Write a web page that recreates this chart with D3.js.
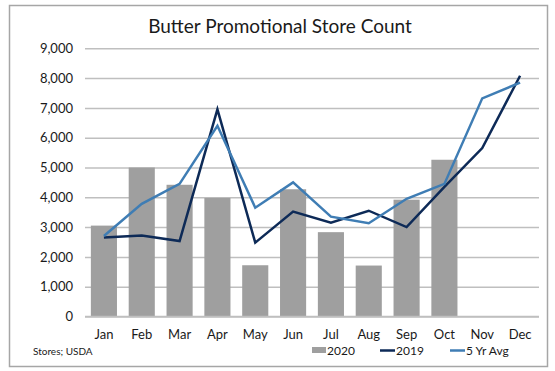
<!DOCTYPE html>
<html><head><meta charset="utf-8">
<script src="https://cdn.jsdelivr.net/npm/d3@7"></script>
<style>body{margin:0;background:#fff}svg{display:block}text{font-family:Lato,"Open Sans",sans-serif;fill:#1a1a1a}</style>
</head><body><svg id="c" width="555" height="371"></svg>
<script>
const months = ["Jan","Feb","Mar","Apr","May","Jun","Jul","Aug","Sep","Oct","Nov","Dec"];
const s2020 = [3050,5000,4420,3980,1720,4270,2830,1710,3920,5260,null,null];
const s2019 = [2650,2720,2530,6950,2480,3520,3150,3550,3000,4350,5650,8080];
const avg5 = [2700,3780,4450,6400,3650,4500,3350,3130,3950,4450,7320,7850];
const yTicks = [0,1000,2000,3000,4000,5000,6000,7000,8000,9000];
const title = "Butter Promotional Store Count";
const source = "Stores; USDA";

const svg = d3.select("#c");
svg.append("rect").attr("x",9.5).attr("y",5.5).attr("width",538).attr("height",361)
  .attr("fill","#fff").attr("stroke","#a6a6a6").attr("stroke-width",1.5);

const m = {l:85, r:539, t:48.3, b:316.5};
const x = d3.scaleBand().domain(months).range([m.l,m.r]).paddingInner(0.31).paddingOuter(0.155);
const xc = d => x(d) + x.bandwidth()/2;
const y = d3.scaleLinear().domain([0,9000]).range([m.b,m.t]);

svg.append("text").attr("x",280).attr("y",33).attr("text-anchor","middle")
  .style("font-size","19px").text(title);

const ya = svg.append("g").attr("transform",`translate(${m.l},0)`)
  .call(d3.axisLeft(y).tickValues(yTicks).tickSize(-(m.r-m.l)).tickPadding(12).tickFormat(d3.format(",")));
ya.select(".domain").remove();
ya.selectAll("line").attr("stroke","#bfbfbf").attr("stroke-width",1.5);
ya.selectAll("text").style("font-size","13px").style("font-family","Lato");

svg.append("g").selectAll("rect").data(months.map((mo,i)=>({mo,v:s2020[i]})).filter(d=>d.v!=null))
  .join("rect").attr("x",d=>x(d.mo)).attr("width",x.bandwidth())
  .attr("y",d=>y(d.v)).attr("height",d=>y(0)-y(d.v)).attr("fill","#9f9f9f");

svg.append("line").attr("x1",m.l).attr("x2",m.r).attr("y1",y(0)).attr("y2",y(0))
  .attr("stroke","#bfbfbf").attr("stroke-width",1.5);

const line = d3.line().x((d,i)=>xc(months[i])).y(d=>y(d));
svg.append("path").datum(s2019).attr("d",line).attr("fill","none").attr("stroke","#0d2a57").attr("stroke-width",2.5);
svg.append("path").datum(avg5).attr("d",line).attr("fill","none").attr("stroke","#3f7db4").attr("stroke-width",2.5);

const xa = svg.append("g").attr("transform",`translate(0,${m.b})`)
  .call(d3.axisBottom(x).tickSize(0).tickPadding(13));
xa.select(".domain").remove();
xa.selectAll("text").style("font-size","13px").style("font-family","Lato");

svg.append("text").attr("x",33).attr("y",355).style("font-size","10px").text(source);

const lg = svg.append("g");
lg.append("rect").attr("x",312).attr("y",347).attr("width",14).attr("height",6).attr("fill","#9f9f9f");
lg.append("text").attr("x",327).attr("y",355).style("font-size","12px").text("2020");
lg.append("line").attr("x1",380).attr("x2",395).attr("y1",350.5).attr("y2",350.5).attr("stroke","#0d2a57").attr("stroke-width",2.5);
lg.append("text").attr("x",396).attr("y",355).style("font-size","12px").text("2019");
lg.append("line").attr("x1",450).attr("x2",465).attr("y1",350.5).attr("y2",350.5).attr("stroke","#3f7db4").attr("stroke-width",2.5);
lg.append("text").attr("x",466).attr("y",355).style("font-size","12px").text("5 Yr Avg");
</script></body></html>
